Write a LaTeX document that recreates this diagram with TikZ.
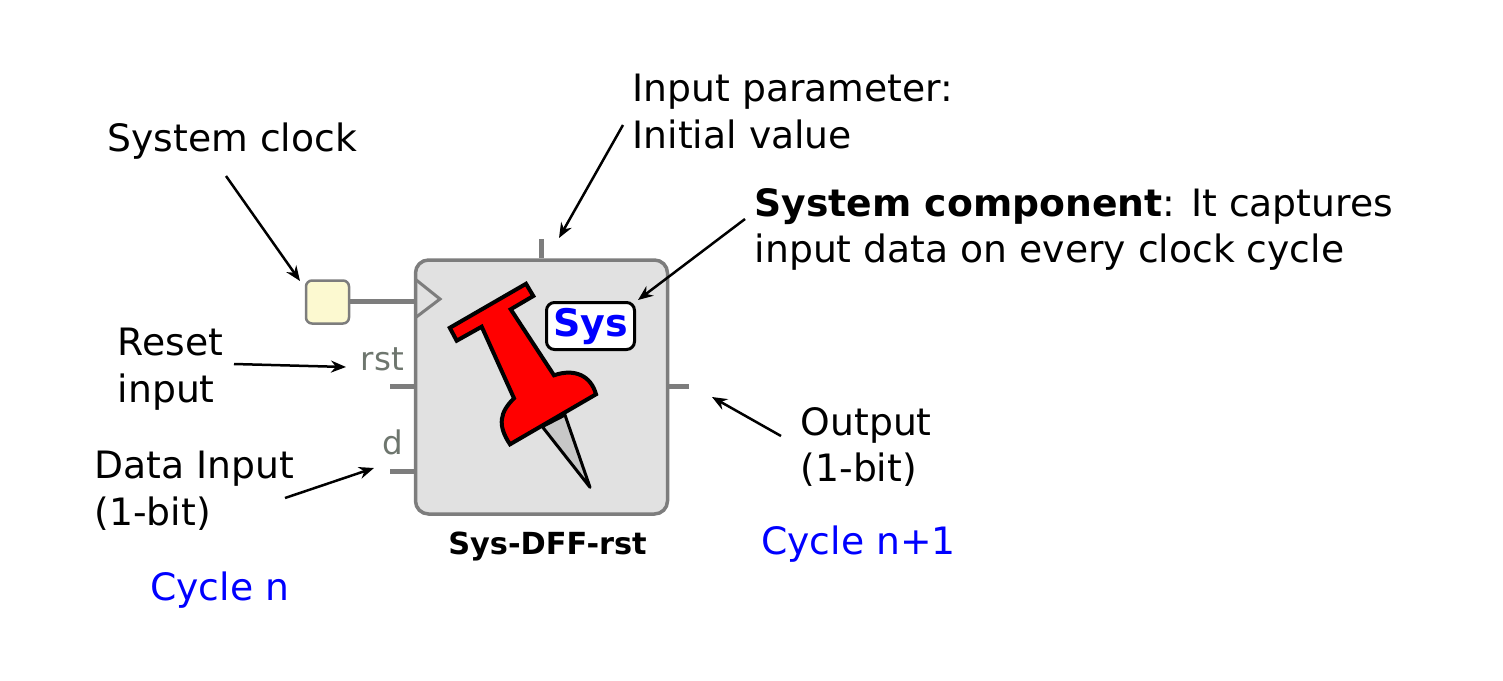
\documentclass[tikz,border=0pt]{standalone}
\usepackage{fontspec}
\setmainfont{DejaVu Sans}
\usetikzlibrary{arrows.meta}
\definecolor{lblgray}{RGB}{110,118,110}
\definecolor{linegray}{RGB}{125,125,125}
\definecolor{blockgray}{RGB}{225,225,225}
\definecolor{clkyellow}{RGB}{252,249,208}
\tikzset{
  txt/.style={anchor=north west,inner sep=0pt,align=left,font=\fontsize{37.7}{46.5}\selectfont},
  cyc/.style={anchor=base west,inner sep=0pt,text=blue,font=\fontsize{37.7}{46.5}\selectfont},
  port/.style={anchor=base east,inner sep=0pt,text=lblgray,font=\fontsize{32.5}{38}\selectfont},
  stub/.style={draw=linegray,line width=5pt},
  note/.style={draw=black,line width=2.5pt,-{Stealth[length=15pt,width=12pt]}}
}
\begin{document}
\begin{tikzpicture}[x=1pt,y=-1pt]
\useasboundingbox (0,0) rectangle (1503,680);
% block and its clock source
\node (dff) at (541.5,387) [draw=linegray,fill=blockgray,line width=3.5pt,rounded corners=13pt,minimum width=252pt,minimum height=254pt,inner sep=0pt] {};
\node (clk) at (327.5,302) [draw=linegray,fill=clkyellow,line width=2.5pt,rounded corners=6pt,minimum width=43pt,minimum height=43pt,inner sep=0pt] {};
\node (sys) at (590.5,326) [draw=black,fill=white,line width=3pt,rounded corners=8pt,minimum width=88pt,minimum height=47pt,inner sep=0pt,text=blue,font=\fontsize{38}{46}\selectfont\bfseries] {Sys};
\node (name) at (547.5,554) [anchor=base,inner sep=0pt,font=\fontsize{30.4}{36}\selectfont\bfseries] {Sys-DFF-rst};
% ports
\coordinate (clkin) at (415,301);
\coordinate (parm) at (541,239);
\coordinate (rstend) at (390,386);
\coordinate (dend) at (390,471);
\coordinate (qend) at (689,386);
\draw [stub] (clk.east |- clkin) -- (clkin);
\draw [stub] (parm) -- (parm |- dff.north);
\draw [stub] (rstend) -- (rstend -| dff.west);
\draw [stub] (dend) -- (dend -| dff.west);
\draw [stub] (qend) -- (qend -| dff.east);
\draw [draw=linegray,line width=3pt] (415,279) -- (440,299) -- (415,318);
\node (rst) at (404,370.5) [port] {rst};
\node (d) at (403,454.5) [port] {d};
% pin
\draw [fill=black!22,line width=3pt,line join=round] (542.3,426.7) -- (590,487.3) -- (565,415) -- cycle;
\draw [fill=red,line width=4pt,line join=miter] (449.8,327.8) -- (526,283.8) -- (533.3,296) -- (510.7,309.3) -- (554,375.3)
  .. controls (575,368) and (591,376) .. (596,394.3) -- (510,444.3)
  .. controls (497,425) and (500,412) .. (514,398.3) -- (481.7,326.7) -- (456.7,340.7) -- cycle;
% labels
\node (clktxt) at (107.5,123) [txt] {System clock};
\node (parmtxt) at (632.5,74) [txt] {Input parameter:\\Initial value};
\node (systxt) at (754.5,188) [txt] {\textbf{System component}: It captures\\input data on every clock cycle};
\node (rsttxt) at (117.5,328) [txt] {Reset\\input};
\node (dtxt) at (94.5,451) [txt] {Data Input\\(1-bit)};
\node (qtxt) at (800.5,407) [txt] {Output\\(1-bit)};
\node (cycn) at (150,600.5) [cyc] {Cycle n};
\node (cycm) at (761,554.5) [cyc] {Cycle n+1};
% arrows
\coordinate (a1) at (226,176);
\coordinate (b1) at (300,281);
\coordinate (a2) at (623,125);
\coordinate (b2) at (559,238);
\coordinate (a3) at (745,219);
\coordinate (b3) at (638,300);
\coordinate (a4) at (234,364);
\coordinate (b4) at (346,367);
\coordinate (a5) at (285,498);
\coordinate (b5) at (374,468);
\coordinate (a6) at (781,436);
\coordinate (b6) at (712,397);
\draw [note] (a1) -- (b1);
\draw [note] (a2) -- (b2);
\draw [note] (a3) -- (b3);
\draw [note] (a4) -- (b4);
\draw [note] (a5) -- (b5);
\draw [note] (a6) -- (b6);
\end{tikzpicture}
\end{document}
